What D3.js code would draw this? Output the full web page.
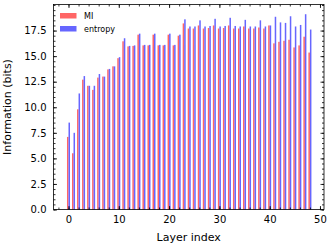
<!DOCTYPE html>
<html>
<head>
<meta charset="utf-8">
<script src="https://cdn.jsdelivr.net/npm/d3@7"></script>
<style>
  body { margin: 0; background: #fff; }
  svg text { font-family: "DejaVu Sans", sans-serif; fill: #000; }
</style>
</head>
<body>
<script>
// values
var layers = d3.range(49);
var mi = [7.1, 5.5, 9.8, 12.7, 12.1, 11.7, 12.9, 13.0, 13.7, 14.0,
  14.8, 16.45, 15.95, 16.0, 17.1, 16.05, 16.05, 17.1, 16.05, 16.05,
  17.1, 16.05, 17.0, 18.2, 17.7, 17.7, 18.0, 17.7, 17.75, 18.0,
  17.7, 17.75, 18.0, 17.7, 17.7, 17.9, 17.7, 17.7, 17.8, 17.7,
  18.0, 16.25, 16.4, 16.5, 16.6, 15.85, 16.05, 16.9, 15.35];
var entropy = [8.5, 7.5, 11.35, 13.05, 12.1, 12.1, 13.25, 13.0, 13.75, 14.0,
  14.9, 16.75, 16.0, 16.05, 17.2, 16.1, 16.1, 17.2, 16.1, 16.1,
  17.2, 16.1, 17.1, 18.6, 17.9, 17.9, 18.5, 17.9, 17.95, 18.65,
  17.9, 17.95, 18.75, 17.95, 17.9, 18.55, 17.9, 17.9, 18.5, 17.9,
  18.0, 18.85, 18.3, 18.25, 18.9, 17.9, 18.05, 19.1, 17.6];
var xTicks = [0, 10, 20, 30, 40, 50];
var yTicks = [0, 2.5, 5, 7.5, 10, 12.5, 15, 17.5];

var width = 333, height = 248;
// plot box (don't use "top", it is window.top)
var pLeft = 53.5, pRight = 324, pTop = 4.5, pBottom = 209.5;
var barW = 0.3;

var svg = d3.select('body').append('svg')
  .attr('width', width)
  .attr('height', height);

var x = d3.scaleLinear().domain([-2.98, 50.8]).range([pLeft, pRight]);
var y = d3.scaleLinear().domain([0, 20.05]).range([pBottom, pTop]);

// bars
svg.append('g').selectAll('rect')
  .data(layers)
  .enter().append('rect')
  .attr('x', function(d) { return x(d - barW); })
  .attr('y', function(d) { return y(mi[d]); })
  .attr('width', x(barW) - x(0))
  .attr('height', function(d) { return y(0) - y(mi[d]); })
  .attr('fill', '#ff6666');

svg.append('g').selectAll('rect')
  .data(layers)
  .enter().append('rect')
  .attr('x', function(d) { return x(d); })
  .attr('y', function(d) { return y(entropy[d]); })
  .attr('width', x(barW) - x(0))
  .attr('height', function(d) { return y(0) - y(entropy[d]); })
  .attr('fill', '#6666ff');

// axes with inward ticks on all four sides
var fmtY = d3.format('.1f');
var xMinor = d3.range(-2, 51, 2);
var yMinor = d3.range(0, 20.01, 0.5);

svg.append('g').attr('transform', 'translate(0,' + pBottom + ')')
  .call(d3.axisBottom(x).tickValues(xTicks).tickFormat(d3.format('d')).tickSizeInner(-3.5).tickSizeOuter(0).tickPadding(6));
svg.append('g').attr('transform', 'translate(0,' + pBottom + ')')
  .call(d3.axisBottom(x).tickValues(xMinor).tickFormat('').tickSizeInner(-2).tickSizeOuter(0));
svg.append('g').attr('transform', 'translate(0,' + pTop + ')')
  .call(d3.axisTop(x).tickValues(xTicks).tickFormat('').tickSizeInner(-3.5).tickSizeOuter(0));
svg.append('g').attr('transform', 'translate(0,' + pTop + ')')
  .call(d3.axisTop(x).tickValues(xMinor).tickFormat('').tickSizeInner(-2).tickSizeOuter(0));

svg.append('g').attr('transform', 'translate(' + pLeft + ',0)')
  .call(d3.axisLeft(y).tickValues(yTicks).tickFormat(fmtY).tickSizeInner(-3.5).tickSizeOuter(0).tickPadding(7));
svg.append('g').attr('transform', 'translate(' + pLeft + ',0)')
  .call(d3.axisLeft(y).tickValues(yMinor).tickFormat('').tickSizeInner(-2).tickSizeOuter(0));
svg.append('g').attr('transform', 'translate(' + pRight + ',0)')
  .call(d3.axisRight(y).tickValues(yTicks).tickFormat('').tickSizeInner(-3.5).tickSizeOuter(0));
svg.append('g').attr('transform', 'translate(' + pRight + ',0)')
  .call(d3.axisRight(y).tickValues(yMinor).tickFormat('').tickSizeInner(-2).tickSizeOuter(0));

svg.selectAll('.domain').remove();
svg.selectAll('.tick line').attr('stroke', '#000').attr('stroke-width', 0.8);
svg.selectAll('.tick text').attr('font-size', 10).attr('font-family', '"DejaVu Sans", sans-serif');

// frame
svg.append('rect')
  .attr('x', pLeft).attr('y', pTop)
  .attr('width', pRight - pLeft).attr('height', pBottom - pTop)
  .attr('fill', 'none').attr('stroke', '#000').attr('stroke-width', 0.8);

// axis labels
svg.append('text')
  .attr('x', (pLeft + pRight) / 2).attr('y', 241)
  .attr('text-anchor', 'middle').attr('font-size', 11)
  .text('Layer index');
svg.append('text')
  .attr('transform', 'translate(11,' + ((pTop + pBottom) / 2) + ') rotate(-90)')
  .attr('text-anchor', 'middle').attr('font-size', 11)
  .text('Information (bits)');

// legend
var legend = [['MI', '#ff6666'], ['entropy', '#6666ff']];
var lg = svg.append('g').selectAll('g')
  .data(legend)
  .enter().append('g')
  .attr('transform', function(d, i) { return 'translate(60,' + (13 + i * 13) + ')'; });
lg.append('rect').attr('width', 16.5).attr('height', 5.5).attr('fill', function(d) { return d[1]; });
lg.append('text').attr('x', 24).attr('y', 5.5).attr('font-size', 8).text(function(d) { return d[0]; });
</script>
</body>
</html>
